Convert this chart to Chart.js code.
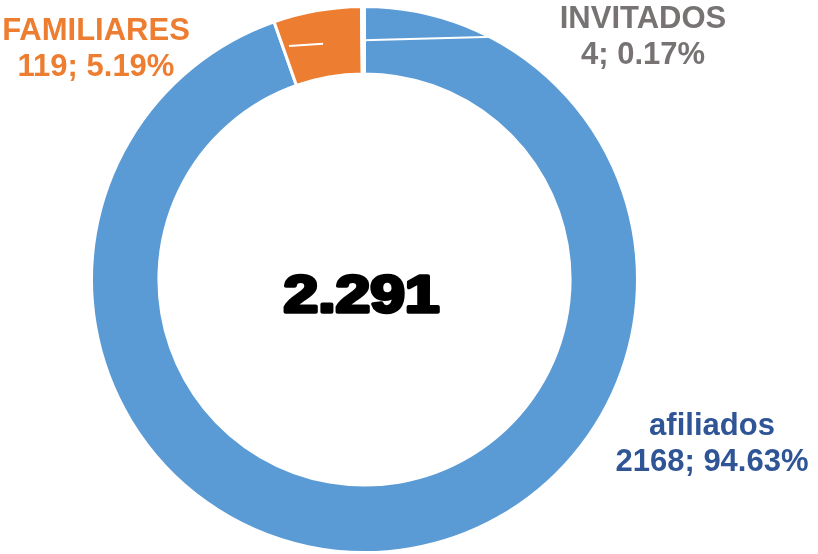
<!DOCTYPE html>
<html>
<head>
<meta charset="utf-8">
<script src="https://cdn.jsdelivr.net/npm/chart.js@4"></script>
<style>
    body { margin: 0; background: #fff; }
    #wrap { width: 818px; height: 554px; position: relative; }
</style>
</head>
<body>
<div id="wrap"><canvas id="chart1"></canvas></div>
<script>
// data
const categories = ['afiliados', 'FAMILIARES', 'INVITADOS'];
const values = [2168, 119, 4];
const sliceColors = ['#5B9BD5', '#ED7D31', '#A5A5A5'];
const labelColors = ['#2F5597', '#ED7D31', '#777373'];

const total = values.reduce((a, b) => a + b, 0);
const totalText = total.toLocaleString('de-DE'); // 2.291

// where each label sits (center x, first baseline) and where its leader line ends
const labelPos = [
    { x: 712, y: 435, lead: null },
    { x: 96, y: 40, lead: { x: 289, y: 46 } },
    { x: 643, y: 28, lead: { x: 560, y: 35 } }
];

const labelsPlugin = {
    id: 'labelsPlugin',
    afterDatasetsDraw(chart) {
        const ctx = chart.ctx;
        const arcs = chart.getDatasetMeta(0).data;
        ctx.save();

        // leader lines (white, from the middle of the ring)
        ctx.strokeStyle = '#ffffff';
        ctx.lineWidth = 2;
        arcs.forEach((arc, i) => {
            const lead = labelPos[i].lead;
            if (!lead) return;
            const p = arc.getProps(['x', 'y', 'startAngle', 'endAngle', 'innerRadius', 'outerRadius'], true);
            const a = (p.startAngle + p.endAngle) / 2;
            const r = (p.innerRadius + p.outerRadius) / 2;
            ctx.beginPath();
            ctx.moveTo(p.x + Math.cos(a) * r, p.y + Math.sin(a) * r);
            ctx.lineTo(lead.x, lead.y);
            ctx.stroke();
        });

        // data labels
        ctx.font = 'bold 31px "Liberation Sans", Arial, sans-serif';
        ctx.textAlign = 'center';
        ctx.textBaseline = 'alphabetic';
        values.forEach((v, i) => {
            const pct = (v / total * 100).toFixed(2) + '%';
            ctx.fillStyle = labelColors[i];
            ctx.fillText(categories[i], labelPos[i].x, labelPos[i].y);
            ctx.fillText(v + '; ' + pct, labelPos[i].x, labelPos[i].y + 36);
        });

        // total in the middle
        const c = arcs[0].getProps(['x', 'y'], true);
        ctx.translate(c.x - 3, c.y + 32);
        ctx.scale(1.2, 1);
        ctx.font = 'bold 52px "Liberation Sans", Arial, sans-serif';
        ctx.fillStyle = '#000';
        ctx.strokeStyle = '#000';
        ctx.lineWidth = 3.5;
        ctx.lineJoin = 'round';
        ctx.fillText(totalText, 0, 0);
        ctx.strokeText(totalText, 0, 0);
        ctx.restore();
    }
};

const ctx = document.querySelector('#chart1');

new Chart(ctx, {
    type: 'doughnut',
    data: {
        labels: categories,
        datasets: [{
            data: values,
            backgroundColor: sliceColors,
            borderColor: '#ffffff',
            borderWidth: 3,
            hoverOffset: 0,
            offset: 0
        }]
    },
    options: {
        responsive: true,
        maintainAspectRatio: false,
        animation: false,
        cutout: '75.3%',
        layout: {
            padding: { top: 5, bottom: 0, left: 0, right: 89 }
        },
        plugins: {
            legend: { display: false },
            tooltip: { enabled: false }
        }
    },
    plugins: [labelsPlugin]
});
</script>
</body>
</html>
